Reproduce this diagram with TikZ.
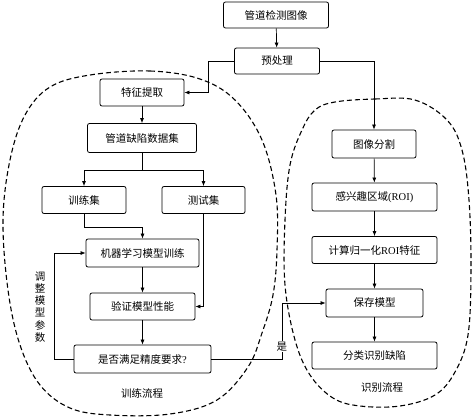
\documentclass[tikz,border=0pt]{standalone}
\usepackage{fontspec}
\setmainfont{Noto Sans CJK SC}
\newfontfamily\roifont{Liberation Serif}
\usetikzlibrary{arrows.meta}

\begin{document}
\begin{tikzpicture}[x=1pt, y=-1pt,
    box/.style={draw, rounded corners=2pt, line width=0.8pt, inner sep=0pt,
        font=\fontsize{10.5}{12}\selectfont},
    arr/.style={-{Latex[length=5pt,width=4pt]}, line width=0.7pt},
    loop/.style={dashed, dash pattern=on 5pt off 3pt, line width=1.1pt},
    lbl/.style={font=\fontsize{10.5}{12}\selectfont}]
    \useasboundingbox (0,0) rectangle (472,416);

    \node[box, minimum width=105pt, minimum height=26pt] (img) at (276,15) {管道检测图像};
    \node[box, minimum width=85pt, minimum height=26pt] (pre) at (277,61) {预处理};

    \node[box, minimum width=84pt, minimum height=27pt] (feat) at (142,92.5) {特征提取};
    \node[box, minimum width=109pt, minimum height=29pt] (data) at (142,138) {管道缺陷数据集};
    \node[box, minimum width=84pt, minimum height=27pt] (train) at (84,200) {训练集};
    \node[box, minimum width=83pt, minimum height=27pt] (test) at (203.5,200) {测试集};
    \node[box, minimum width=113pt, minimum height=28pt] (ml) at (142.5,253) {机器学习模型训练};
    \node[box, minimum width=105pt, minimum height=27pt] (val) at (142.5,306.5) {验证模型性能};
    \node[box, minimum width=137pt, minimum height=28pt] (acc) at (142.5,359) {是否满足精度要求{\roifont ?}};

    \node[box, minimum width=84pt, minimum height=28pt] (seg) at (374,144) {图像分割};
    \node[box, minimum width=125pt, minimum height=28pt] (roi) at (374.5,197) {感兴趣区域{\roifont (ROI)}};
    \node[box, minimum width=125pt, minimum height=27pt] (norm) at (374.5,250) {计算归一化{\roifont ROI}特征};
    \node[box, minimum width=97pt, minimum height=28pt] (save) at (374.5,303) {保存模型};
    \node[box, minimum width=125pt, minimum height=27pt] (cls) at (374.5,355.5) {分类识别缺陷};

    \draw[arr] (img) -- (pre);
    \draw[arr] (pre.west) -- ++(-25.5,0) |- (feat.east);
    \draw[arr] (pre.east) -| (seg.north);
    \draw[arr] (feat) -- (data);
    \draw[arr] (data.south) -- ++(0,17) -| (train.north);
    \draw[arr] (data.south) -- ++(0,17) -| (test.north);
    \draw[arr] (train.south) -- ++(0,13) -| (ml.north);
    \draw[arr] (ml) -- (val);
    \draw[arr] (test.south) |- (val.east);
    \draw[arr] (val) -- (acc);
    \draw[arr] (acc.west) -- ++(-19,0) |- (ml.west);
    \draw[arr] (acc.east) -- ++(70.5,0) |- (save.west)
        node[pos=0.11, fill=white, inner sep=1pt, lbl] (yes) {是};
    \draw[arr] (seg) -- (roi);
    \draw[arr] (roi) -- (norm);
    \draw[arr] (norm) -- (save);
    \draw[arr] (save) -- (cls);

    \node[lbl, align=center, inner sep=0pt, font=\fontsize{10.5}{12.2}\selectfont] (adj) at (40,307) {调\\整\\模\\型\\参\\数};
    \node[lbl] (trainflow) at (142,393) {训练流程};
    \node[lbl] (recflow) at (382,388) {识别流程};

    \draw[loop] plot[smooth cycle, tension=0.6] coordinates {
        (90,75) (150,71) (200,79) (235,100) (262,140) (276,195) (277,250)
        (273,295) (262,333) (248,367) (217,400) (170,414) (110,415) (70,408)
        (40,385) (20,345) (8,290) (3,220) (10,160) (25,115) (50,87)};
    \draw[loop] plot[smooth cycle, tension=0.6] coordinates {
        (335,102) (375,99) (415,100) (447,120) (462,150) (469,200) (471,270)
        (468,335) (455,372) (435,395) (400,406) (360,406) (333,398) (310,375)
        (295,340) (285,285) (285,220) (290,165) (302,130) (315,110)};
\end{tikzpicture}
\end{document}
